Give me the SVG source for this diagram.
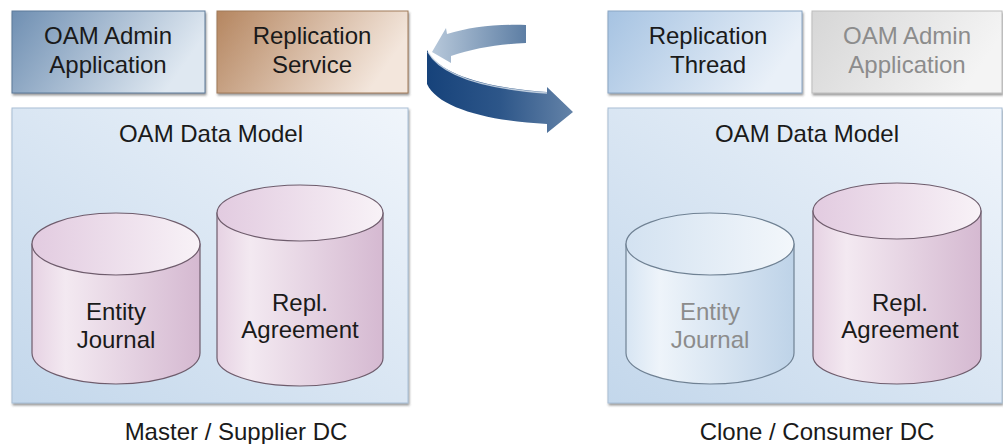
<svg xmlns="http://www.w3.org/2000/svg" width="1003" height="444" viewBox="0 0 1003 444">
<defs>
<style>
text{font-family:"Liberation Sans",Arial,sans-serif;font-size:24px;fill:#1a1a1a;text-anchor:middle}
.grey{fill:#8c8c8c}
.box{stroke-width:1}
.cyl{stroke:#6e5c6c;stroke-width:1.2}
.cylb{stroke:#6f8193;stroke-width:1.2}
</style>
<filter id="sh" x="-5%" y="-5%" width="112%" height="115%">
<feDropShadow dx="1" dy="2" stdDeviation="1" flood-color="#555" flood-opacity="0.6"/>
</filter>
<linearGradient id="gBlueDark" x1="0" y1="0" x2="1" y2="0.3">
<stop offset="0" stop-color="#6f8fb2"/><stop offset="1" stop-color="#dfe8f1"/>
</linearGradient>
<linearGradient id="gBrown" x1="0" y1="0" x2="1" y2="0.3">
<stop offset="0" stop-color="#b58660"/><stop offset="1" stop-color="#f3e6dc"/>
</linearGradient>
<linearGradient id="gBlueLight" x1="0" y1="0" x2="1" y2="0.3">
<stop offset="0" stop-color="#a6c3e2"/><stop offset="1" stop-color="#e9f0f8"/>
</linearGradient>
<linearGradient id="gGrey" x1="0" y1="0" x2="1" y2="0.3">
<stop offset="0" stop-color="#d6d6d6"/><stop offset="1" stop-color="#f4f4f4"/>
</linearGradient>
<linearGradient id="gPanel" x1="0" y1="1" x2="1" y2="0">
<stop offset="0" stop-color="#c3d7eb"/><stop offset="1" stop-color="#f0f5fb"/>
</linearGradient>
<linearGradient id="gPinkBody" x1="0" y1="0" x2="1" y2="0">
<stop offset="0" stop-color="#e6d2e3"/><stop offset="0.2" stop-color="#f3e9f1"/><stop offset="1" stop-color="#d5b9d1"/>
</linearGradient>
<linearGradient id="gPinkTop" x1="0" y1="0" x2="1" y2="0">
<stop offset="0" stop-color="#e2cbe0"/><stop offset="1" stop-color="#f8f2f7"/>
</linearGradient>
<linearGradient id="gBlueBody" x1="0" y1="0" x2="1" y2="0">
<stop offset="0" stop-color="#d7e5f3"/><stop offset="0.2" stop-color="#eef4fa"/><stop offset="1" stop-color="#bed3e8"/>
</linearGradient>
<linearGradient id="gBlueTop" x1="0" y1="0" x2="1" y2="0">
<stop offset="0" stop-color="#d3e2f1"/><stop offset="1" stop-color="#f3f7fb"/>
</linearGradient>
<linearGradient id="gArrowFront" x1="0" y1="0" x2="1" y2="0">
<stop offset="0" stop-color="#16427a"/><stop offset="0.5" stop-color="#2d5689"/><stop offset="1" stop-color="#6483a8"/>
</linearGradient>
<linearGradient id="gArrowBack" x1="0" y1="0" x2="1" y2="0">
<stop offset="0" stop-color="#b7c8da"/><stop offset="1" stop-color="#5d7ea4"/>
</linearGradient>
</defs>

<!-- Left side -->
<g id="oam-admin-left">
<rect class="box" x="12" y="11" width="193" height="82" fill="url(#gBlueDark)" stroke="#5d7a99" filter="url(#sh)"/>
<text x="108" y="44">OAM Admin</text>
<text x="108" y="73">Application</text>
</g>
<g id="replication-service">
<rect class="box" x="217" y="11" width="191" height="82" fill="url(#gBrown)" stroke="#a07a58" filter="url(#sh)"/>
<text x="312" y="44">Replication</text>
<text x="312" y="73">Service</text>
</g>
<g id="data-model-left">
<rect x="12" y="108" width="396" height="295" fill="url(#gPanel)" stroke="#a9bfd6" filter="url(#sh)"/>
<text x="211" y="142">OAM Data Model</text>
</g>
<g id="entity-journal-left">
<path class="cyl" d="M32,244 L32,353 A84,31 0 0 0 200,353 L200,244 Z" fill="url(#gPinkBody)"/>
<ellipse class="cyl" cx="116" cy="244" rx="84" ry="31" fill="url(#gPinkTop)"/>
<text x="116" y="320">Entity</text>
<text x="116" y="348">Journal</text>
</g>
<g id="repl-agreement-left">
<path class="cyl" d="M217,213 L217,358 A83,28 0 0 0 383,358 L383,213 Z" fill="url(#gPinkBody)"/>
<ellipse class="cyl" cx="300" cy="213" rx="83" ry="28" fill="url(#gPinkTop)"/>
<text x="300" y="311">Repl.</text>
<text x="300" y="338">Agreement</text>
</g>
<text x="236" y="440">Master / Supplier DC</text>

<!-- Right side -->
<g id="replication-thread">
<rect class="box" x="608" y="11" width="194" height="82" fill="url(#gBlueLight)" stroke="#8aa6c4" filter="url(#sh)"/>
<text x="708" y="44">Replication</text>
<text x="708" y="73">Thread</text>
</g>
<g id="oam-admin-right">
<rect class="box" x="812" y="11" width="190" height="82" fill="url(#gGrey)" stroke="#bdbdbd" filter="url(#sh)"/>
<text class="grey" x="907" y="44">OAM Admin</text>
<text class="grey" x="907" y="73">Application</text>
</g>
<g id="data-model-right">
<rect x="608" y="108" width="394" height="295" fill="url(#gPanel)" stroke="#a9bfd6" filter="url(#sh)"/>
<text x="807" y="142">OAM Data Model</text>
</g>
<g id="entity-journal-right">
<path class="cylb" d="M626,244 L626,353 A84,31 0 0 0 794,353 L794,244 Z" fill="url(#gBlueBody)"/>
<ellipse class="cylb" cx="710" cy="244" rx="84" ry="31" fill="url(#gBlueTop)"/>
<text class="grey" x="710" y="320">Entity</text>
<text class="grey" x="710" y="348">Journal</text>
</g>
<g id="repl-agreement-right">
<path class="cyl" d="M813,211 L813,356 A84,28 0 0 0 981,356 L981,211 Z" fill="url(#gPinkBody)"/>
<ellipse class="cyl" cx="897" cy="211" rx="84" ry="28" fill="url(#gPinkTop)"/>
<text x="900" y="311">Repl.</text>
<text x="900" y="338">Agreement</text>
</g>
<text x="817" y="440">Clone / Consumer DC</text>

<!-- Connector: replication arrow -->
<g id="connectors">
<path d="M526,25 C498,24 470,27 447,34 L446,28 L432,52 L451,63 L451,56 C474,48 500,44 526,43 Z" fill="url(#gArrowBack)"/>
<path d="M427,50 C440,76 490,88 547,92 L547,87 L573,112 L547,133 L547,124 C488,121 438,108 427,84 Z" fill="url(#gArrowFront)"/>
<path d="M428,52 C442,77 490,89 547,93" fill="none" stroke="#dfe7f0" stroke-width="1.5" opacity="0.8"/>
</g>
</svg>
